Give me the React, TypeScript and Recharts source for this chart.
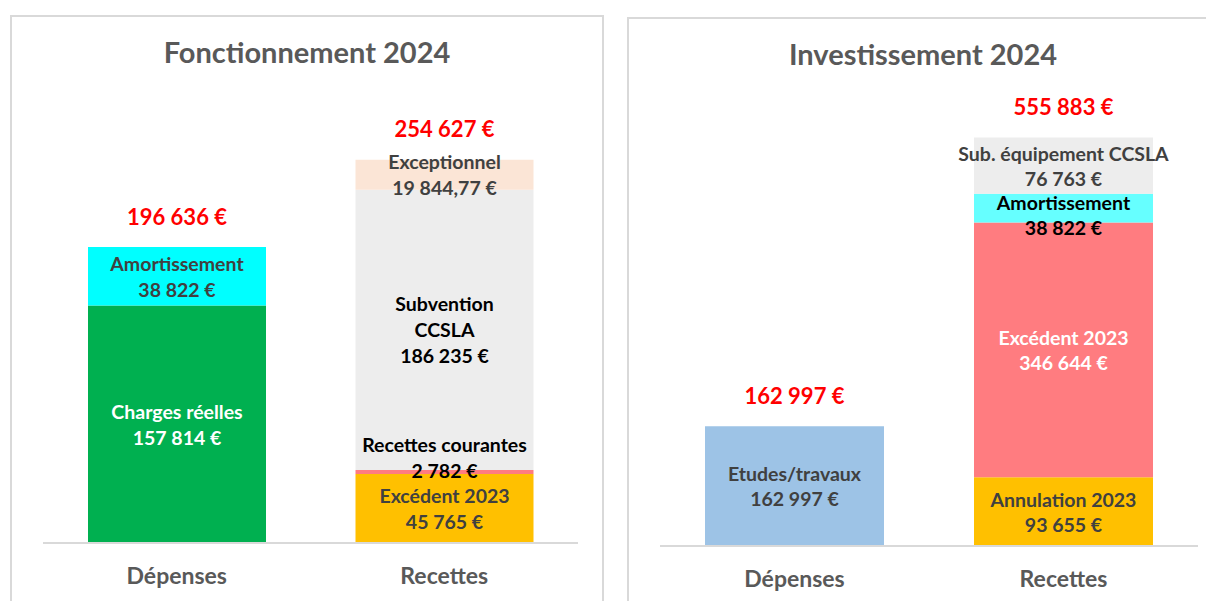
import React from "react"
import { BarChart, Bar, XAxis, YAxis, LabelList } from "recharts"

const categories = ["Dépenses", "Recettes"]

// Fonctionnement 2024 (stacked bottom -> top)
const fonctNames = ["Charges réelles", "Amortissement", "Excédent 2023", "Recettes courantes", "Subvention\nCCSLA", "Exceptionnel"]
const fonctDepenses = [157814, 38822, 0, 0, 0, 0]
const fonctRecettes = [0, 0, 45765, 2782, 186235, 19844.77]
const fonctTotals = [196636, 254627]

// Investissement 2024 (stacked bottom -> top)
const investNames = ["Etudes/travaux", "Annulation 2023", "Excédent 2023", "Amortissement", "Sub. équipement CCSLA"]
const investDepenses = [162997, 0, 0, 0, 0]
const investRecettes = [0, 93655, 346644, 38822, 76763]
const investTotals = [162997, 555883]

// styles
const fonctColors = ["#00B050", "#00FFFF", "#FFC000", "#FF7C80", "#EDEDED", "#FBE5D6"]
const fonctTextColors = ["#FFFFFF", "#404040", "#404040", "#000000", "#000000", "#404040"]
const fonctShift = [0, 0, 0, -15, 0, 0]

const investColors = ["#9DC3E6", "#FFC000", "#FF7C80", "#66FFFF", "#EDEDED"]
const investTextColors = ["#404040", "#404040", "#FFFFFF", "#000000", "#404040"]
const investShift = [0, 0, 0, 7, 0]

const FONT = "Lato, 'Open Sans', sans-serif"

const fmt = (v: number) => {
  const [int, dec] = v.toFixed(Number.isInteger(v) ? 0 : 2).split(".")
  const grouped = int.replace(/\B(?=(\d{3})+(?!\d))/g, " ")
  return (dec ? `${grouped},${dec}` : grouped) + " €"
}

interface PanelProps {
  names: string[]
  depenses: number[]
  recettes: number[]
  totals: number[]
  colors: string[]
  textColors: string[]
  shift: number[]
  max: number
  left: number
  margin: { top: number; right: number; bottom: number; left: number }
  barSize: number
  lineH: number
}

function StackPanel(props: PanelProps) {
  const { names, depenses, recettes, totals, colors, textColors, shift, max, left, margin, barSize, lineH } = props
  const width = 600
  const midX = (margin.left + width - margin.right) / 2

  const rows = categories.map((cat, i) => {
    const vals = i === 0 ? depenses : recettes
    const row: any = { cat }
    names.forEach((_, s) => {
      row[`s${s}`] = vals[s]
    })
    return row
  })

  const topIdx = categories.map((_, i) => {
    const vals = i === 0 ? depenses : recettes
    let t = 0
    vals.forEach((v, s) => {
      if (v > 0) t = s
    })
    return t
  })

  const renderLabel = (s: number) => (p: any) => {
    const x = Number(p.x)
    const y = Number(p.y)
    const w = Number(p.width)
    const h = Number(p.height)
    const cx = x + w / 2
    // which category this rect belongs to (zero-height rects may be skipped, so index is unreliable)
    const i = cx < midX ? 0 : 1
    const vals = i === 0 ? depenses : recettes
    const v = vals[s]
    if (!v) return null
    const lines = [...names[s].split("\n"), fmt(v)]
    const cy = y + h / 2 + shift[s]
    return (
      <g>
        {lines.map((t, k) => (
          <text
            key={k}
            x={cx}
            y={cy + (k - (lines.length - 1) / 2) * lineH}
            textAnchor="middle"
            dominantBaseline="central"
            fill={textColors[s]}
            fontSize={19.5}
            fontWeight={700}
            fontFamily={FONT}
          >
            {t}
          </text>
        ))}
        {s === topIdx[i] && (
          <text
            x={cx}
            y={y - 31}
            textAnchor="middle"
            dominantBaseline="central"
            fill="#FF0000"
            fontSize={22}
            fontWeight={700}
            fontFamily={FONT}
          >
            {fmt(totals[i])}
          </text>
        )}
      </g>
    )
  }

  const CatTick = ({ x, y, payload }: any) => (
    <text x={x} y={y + 32} textAnchor="middle" dominantBaseline="central" fill="#595959" fontSize={23} fontWeight={700} fontFamily={FONT}>
      {payload.value}
    </text>
  )

  return (
    <div style={{ position: "absolute", left, top: 0 }}>
      <BarChart width={width} height={601} data={rows} margin={margin} barSize={barSize}>
        <XAxis
          dataKey="cat"
          height={40}
          tickSize={0}
          tickMargin={0}
          tickLine={false}
          axisLine={{ stroke: "#D9D9D9", strokeWidth: 2 }}
          tick={<CatTick />}
        />
        <YAxis hide domain={[0, max]} />
        {names.map((n, s) => (
          <Bar key={n} dataKey={`s${s}`} stackId="a" fill={colors[s]} isAnimationActive={false}>
            <LabelList content={renderLabel(s)} />
          </Bar>
        ))}
      </BarChart>
    </div>
  )
}

export default function App() {
  const titleStyle: React.CSSProperties = {
    position: "absolute",
    fontFamily: FONT,
    fontWeight: 700,
    fontSize: 29,
    color: "#595959",
    textAlign: "center",
    lineHeight: "30px",
  }
  return (
    <div style={{ position: "fixed", left: 0, top: 0, width: 1206, height: 601, overflow: "hidden", background: "#fff" }}>
      <div style={{ position: "absolute", left: 10, top: 15, width: 590, height: 640, border: "2px solid #D9D9D9" }} />
      <div style={{ position: "absolute", left: 627, top: 17, width: 620, height: 640, border: "2px solid #D9D9D9" }} />
      <div style={{ ...titleStyle, left: 10, width: 594, top: 37 }}>Fonctionnement 2024</div>
      <div style={{ ...titleStyle, left: 627, width: 592, top: 39 }}>Investissement 2024</div>
      <StackPanel
        names={fonctNames}
        depenses={fonctDepenses}
        recettes={fonctRecettes}
        totals={fonctTotals}
        colors={fonctColors}
        textColors={fonctTextColors}
        shift={fonctShift}
        max={300000}
        left={0}
        margin={{ top: 91.5, right: 22, bottom: 18, left: 43 }}
        barSize={178}
        lineH={26}
      />
      <StackPanel
        names={investNames}
        depenses={investDepenses}
        recettes={investRecettes}
        totals={investTotals}
        colors={investColors}
        textColors={investTextColors}
        shift={investShift}
        max={600000}
        left={606}
        margin={{ top: 105, right: 8, bottom: 15, left: 54 }}
        barSize={179}
        lineH={25}
      />
    </div>
  )
}
